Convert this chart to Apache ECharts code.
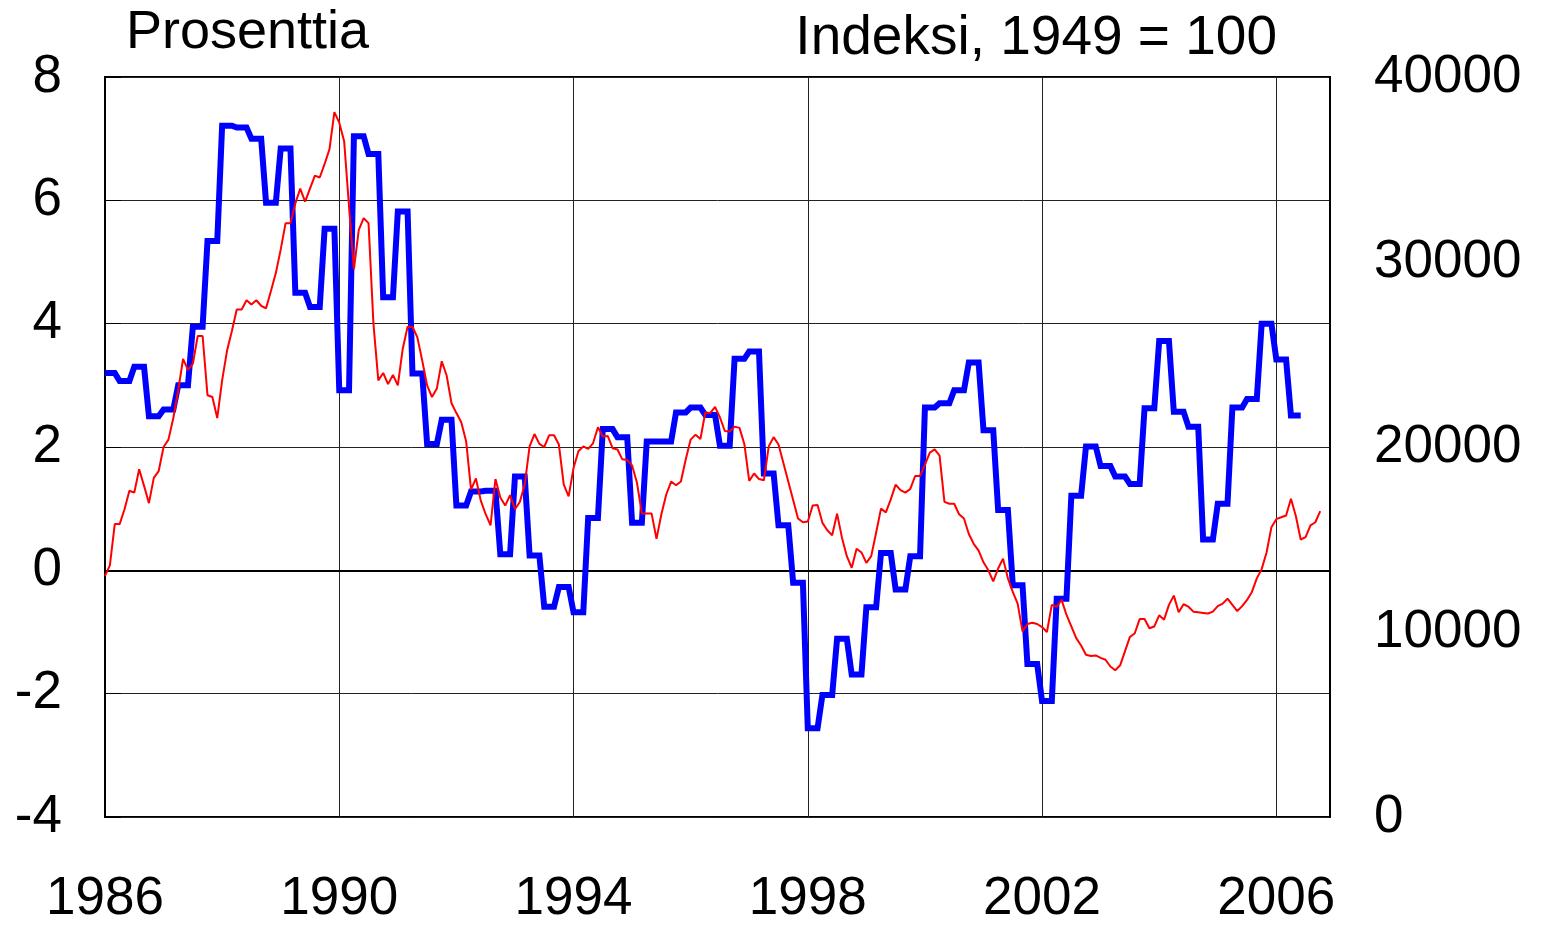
<!DOCTYPE html>
<html>
<head>
<meta charset="utf-8">
<title>Prosenttia / Indeksi</title>
<script src="https://cdn.jsdelivr.net/npm/echarts@6/dist/echarts.min.js"></script>
<style>
  html, body { margin: 0; padding: 0; background: #fff; overflow: hidden; }
  #chart { width: 1541px; height: 926px; }
</style>
</head>
<body>
<div id="chart"></div>
<script>
// quarterly values, Q1 1986 .. Q2 2006 (each held for three months)
var blueQuarterly = [
    3.20, 3.07, 3.30, 2.50,
    2.61, 3.00, 3.95, 5.34,
    7.21, 7.18, 7.00, 5.96,
    6.84, 4.50, 4.27, 5.54,
    2.92, 7.04, 6.75, 4.43,
    5.82, 3.19, 2.05, 2.44,
    1.05, 1.28, 1.29, 0.26,
    1.52, 0.24, -0.59, -0.27,
    -0.68, 0.85, 2.29, 2.16,
    0.77, 2.09, 2.09, 2.56,
    2.64, 2.52, 2.02, 3.43,
    3.55, 1.57, 0.73, -0.20,
    -2.56, -2.02, -1.11, -1.69,
    -0.60, 0.28, -0.31, 0.23,
    2.64, 2.71, 2.92, 3.37,
    2.27, 0.98, -0.24, -1.52,
    -2.12, -0.46, 1.21, 2.01,
    1.69, 1.52, 1.40, 2.63,
    3.72, 2.57, 2.33, 0.50,
    1.08, 2.64, 2.78, 4.00,
    3.42, 2.51
];

// monthly values, Jan 1986 .. Oct 2006
var redMonthly = [
    -0.09, 0.08, 0.75, 0.75, 0.99, 1.29, 1.26, 1.64, 1.37, 1.09, 1.50, 1.61,
    2.00, 2.12, 2.47, 2.92, 3.43, 3.25, 3.35, 3.80, 3.80, 2.84, 2.81, 2.47,
    3.08, 3.56, 3.88, 4.23, 4.23, 4.38, 4.31, 4.38, 4.29, 4.25, 4.53, 4.82,
    5.20, 5.63, 5.63, 5.95, 6.19, 5.98, 6.19, 6.40, 6.37, 6.59, 6.83, 7.43,
    7.26, 6.96, 5.90, 4.88, 5.52, 5.71, 5.63, 4.00, 3.08, 3.20, 3.02, 3.17,
    3.00, 3.59, 3.95, 3.95, 3.78, 3.40, 3.00, 2.81, 2.95, 3.39, 3.16, 2.71,
    2.55, 2.40, 2.09, 1.31, 1.49, 1.13, 0.91, 0.73, 1.48, 1.18, 1.05, 1.22,
    0.99, 1.11, 1.39, 2.01, 2.21, 2.05, 2.00, 2.19, 2.19, 2.04, 1.39, 1.20,
    1.66, 1.93, 2.01, 1.97, 2.06, 2.32, 2.17, 2.18, 1.98, 1.96, 1.80, 1.79,
    1.70, 1.42, 0.92, 0.92, 0.92, 0.51, 0.91, 1.23, 1.44, 1.38, 1.44, 1.80,
    2.12, 2.20, 2.13, 2.56, 2.55, 2.65, 2.48, 2.26, 2.25, 2.33, 2.31, 2.05,
    1.45, 1.57, 1.48, 1.46, 2.01, 2.16, 2.04, 1.74, 1.44, 1.14, 0.84, 0.78,
    0.79, 1.05, 1.06, 0.77, 0.65, 0.57, 0.92, 0.53, 0.23, 0.04, 0.35, 0.29,
    0.12, 0.23, 0.61, 1.00, 0.94, 1.15, 1.39, 1.30, 1.26, 1.32, 1.53, 1.53,
    1.71, 1.91, 1.96, 1.86, 1.11, 1.08, 1.08, 0.91, 0.84, 0.59, 0.43, 0.32,
    0.13, 0.00, -0.18, 0.03, 0.19, -0.13, -0.35, -0.54, -0.99, -0.87, -0.85, -0.87,
    -0.92, -1.00, -0.56, -0.59, -0.48, -0.72, -0.91, -1.10, -1.22, -1.37, -1.39, -1.38,
    -1.42, -1.45, -1.56, -1.62, -1.54, -1.31, -1.08, -1.02, -0.79, -0.79, -0.94, -0.91,
    -0.73, -0.80, -0.56, -0.41, -0.68, -0.55, -0.59, -0.67, -0.68, -0.69, -0.70, -0.67,
    -0.58, -0.54, -0.46, -0.56, -0.66, -0.58, -0.48, -0.35, -0.13, 0.02, 0.29, 0.70,
    0.83, 0.86, 0.89, 1.16, 0.88, 0.50, 0.54, 0.73, 0.78, 0.96
];

var startYear = 1986;
var leftTitle = 'Prosenttia';
var rightTitle = 'Indeksi, 1949 = 100';

var font = '"Liberation Sans", Arial, sans-serif';
var fontSize = 53;

// put monthly points on the time axis
var blueData = [];
blueQuarterly.forEach(function (v, q) {
    for (var k = 0; k < 3; k++) {
        blueData.push([startYear + (q * 3 + k) / 12, v]);
    }
});
var redData = redMonthly.map(function (v, m) {
    return [startYear + m / 12, v];
});

var chart = echarts.init(document.getElementById('chart'));
var option = {
    animation: false,
    textStyle: { fontFamily: font, color: '#000' },
    title: [
        {
            text: leftTitle, left: 126, top: 6, padding: 0,
            textStyle: { fontFamily: font, fontSize: 54, fontWeight: 'normal', color: '#000' }
        },
        {
            text: rightTitle, right: 264, top: 11, padding: 0,
            textStyle: { fontFamily: font, fontSize: 55, fontWeight: 'normal', color: '#000' }
        }
    ],
    grid: {
        left: 105, right: 211, top: 77, bottom: 102,
        show: true, borderColor: '#000', borderWidth: 2, backgroundColor: 'transparent'
    },
    xAxis: {
        type: 'value',
        min: startYear,
        max: 2006 + 11 / 12,
        interval: 4,
        axisLine: { lineStyle: { color: '#000', width: 2 } },
        axisTick: { show: false },
        splitLine: { lineStyle: { color: '#222', width: 1 } },
        axisLabel: {
            margin: 56, fontSize: fontSize, color: '#000', fontFamily: font,
            showMaxLabel: false,
            formatter: function (v) { return Math.abs(v - Math.round(v)) < 1e-6 ? String(Math.round(v)) : ''; }
        }
    },
    yAxis: [
        {
            type: 'value', min: -4, max: 8, interval: 2,
            axisLine: { show: true, lineStyle: { color: '#000', width: 2 } },
            axisTick: { show: true, inside: true, length: 16, lineStyle: { color: '#000' } },
            splitLine: { lineStyle: { color: '#222', width: 1 } },
            axisLabel: { margin: 43, fontSize: fontSize, color: '#000', fontFamily: font }
        },
        {
            type: 'value', min: 0, max: 40000, interval: 10000, position: 'right',
            axisLine: { show: true, lineStyle: { color: '#000', width: 2 } },
            axisTick: { show: false },
            splitLine: { show: false },
            axisLabel: {
                margin: 44, fontSize: fontSize, color: '#000', fontFamily: font,
                formatter: function (v) { return String(v); }
            }
        }
    ],
    series: [
        {
            name: 'blue', type: 'line', yAxisIndex: 0, data: blueData,
            showSymbol: false, symbol: 'none',
            lineStyle: { color: '#0000ff', width: 6, join: 'miter' },
            itemStyle: { color: '#0000ff' },
            z: 2
        },
        {
            name: 'red', type: 'line', yAxisIndex: 0, data: redData,
            showSymbol: false, symbol: 'none',
            lineStyle: { color: '#ff0000', width: 2 },
            itemStyle: { color: '#ff0000' },
            z: 3
        }
    ]
};
chart.setOption(option);
</script>
</body>
</html>
